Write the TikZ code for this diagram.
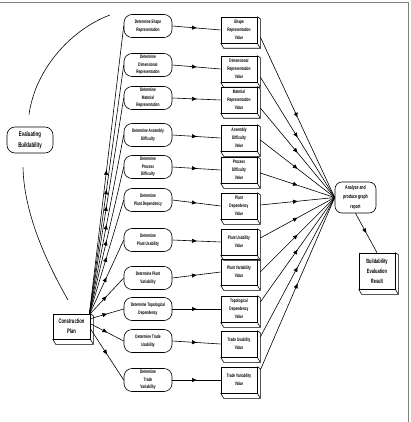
\documentclass[tikz,border=0pt]{standalone}
\usepackage{fontspec}
\setmainfont{Liberation Sans}[FakeStretch=0.64]
\usetikzlibrary{arrows.meta,decorations.markings,calc}
\begin{document}
\begin{tikzpicture}[x=1pt,y=-1pt, line width=0.6pt,
 det/.style={draw, rounded corners=8pt, minimum width=48pt, minimum height=23pt, inner sep=0pt, align=center, font=\fontsize{5}{7.5}\selectfont\bfseries},
 val/.style={draw, fill=white, minimum width=36pt, minimum height=26pt, inner sep=0pt, align=center, font=\fontsize{5}{8}\selectfont\bfseries},
 midarrow/.style={postaction={decorate}, decoration={markings, mark=at position 0.5 with {\arrow{Triangle[length=4.5pt,width=4pt]}}}},
]
\useasboundingbox (0,0) rectangle (410,422);
\draw[gray, line width=0.8pt] (0,2.5) -- (408,2.5) -- (408,422);

% left "Determine" boxes
\node[det] (d1)  at (148,26)  {Determine Shape\\Representation};
\node[det] (d2)  at (148,65)  {Determine\\Dimensional\\Representation};
\node[det] (d3)  at (148,98)  {Determine\\Material\\Representation};
\node[det] (d4)  at (148,135) {Determine Assembly\\Difficulty};
\node[det] (d5)  at (148,167) {Determine\\Process\\Difficulty};
\node[det] (d6)  at (148,200) {Determine\\Plant Dependency};
\node[det] (d7)  at (148,240) {Determine\\Plant Usability};
\node[det] (d8)  at (148,278) {Determine Plant\\Variability};
\node[det] (d9)  at (148,309) {Determine Topological\\Dependency};
\node[det] (d10) at (148,341) {Determine Trade\\Usability};
\node[det] (d11) at (148,380) {Determine\\Trade\\Variability};

% value boxes
\node[val] (v1)  at (239,30)  {Shape\\Representation\\Value};
\node[val] (v2)  at (239,69)  {Dimensional\\Representation\\Value};
\node[val] (v3)  at (239,100) {Material\\Representation\\Value};
\node[val] (v4)  at (239,138) {Assembly\\Difficulty\\Value};
\node[val] (v5)  at (239,170) {Process\\Difficulty\\Value};
\node[val] (v6)  at (239,206) {Plant\\Dependency\\Value};
\node[val] (v7)  at (239,242) {Plant Usability\\Value};
\node[val] (v8)  at (239,272) {Plant Variability\\Value};
\node[val] (v9)  at (239,309) {Topological\\Dependency\\Value};
\node[val] (v10) at (239,344) {Trade Usability\\Value};
\node[val] (v11) at (239,380) {Trade Variability\\Value};

% other nodes
\node[draw, rounded corners=8pt, minimum width=46pt, minimum height=26pt, inner sep=0pt, align=center, font=\fontsize{6.8}{11}\selectfont\bfseries] (eval) at (30,140) {Evaluating\\Buildability};
\node[draw, fill=white, minimum width=37pt, minimum height=25pt, inner sep=0pt, align=center, font=\fontsize{6.5}{10}\selectfont\bfseries] (cp) at (71.5,326.5) {Construction\\Plan};
\node[draw, rounded corners=7pt, minimum width=41pt, minimum height=31pt, inner sep=0pt, align=center, font=\fontsize{5.5}{9.5}\selectfont\bfseries] (an) at (355.5,197.5) {Analyze and\\produce graph\\report};
\node[draw, fill=white, minimum width=36pt, minimum height=36pt, inner sep=0pt, align=center, font=\fontsize{6.2}{10}\selectfont\bfseries] (ber) at (377,271) {Buildability\\Evaluation\\Result};

% 3D depth of boxes
\foreach \n in {v1,v2,v3,v4,v5,v6,v7,v8,v9,v10,v11,cp,ber}{
  \draw (\n.south west) -- ++(3,5) -- ($(\n.south east)+(3,5)$) -- ($(\n.north east)+(3,2)$) -- (\n.north east);
  \draw (\n.south east) -- ++(3,5);
}

% fan from construction plan
\foreach \i in {1,...,8}{
  \draw[midarrow] ($(cp.north east)+(-1,1)$) -- (d\i.west);
}
\draw[midarrow] ($(cp.north east)+(0,5)$) -- (d9.west);
\draw[midarrow] ($(cp.north east)+(0,10)$) -- (d10.west);
\draw[midarrow] ($(cp.north east)+(0,15)$) -- (d11.west);

% determine -> value
\foreach \i in {1,...,11}{
  \draw[midarrow] (d\i.east) -- (v\i.west);
}

% value -> analyze
\foreach \i/\o in {1/7,2/8,3/8,4/2,5/3,6/-1,7/-4,8/0,9/-7,10/-7,11/-10}{
  \draw[midarrow] ($(v\i.east)+(3,\o)$) -- (an.west);
}
\draw[midarrow] (an.south) -- (ber.north);

% arc through Evaluating Buildability
\coordinate (arcTop) at (110,15);
\coordinate (arcBot) at (68,300);
\draw ($(eval.north)+(-1,-12)$) .. controls (35,70) and (70,30) .. (arcTop);
\draw ($(eval.south)+(-7,14)$) .. controls (24,215) and (48,265) .. (arcBot);
\end{tikzpicture}
\end{document}
